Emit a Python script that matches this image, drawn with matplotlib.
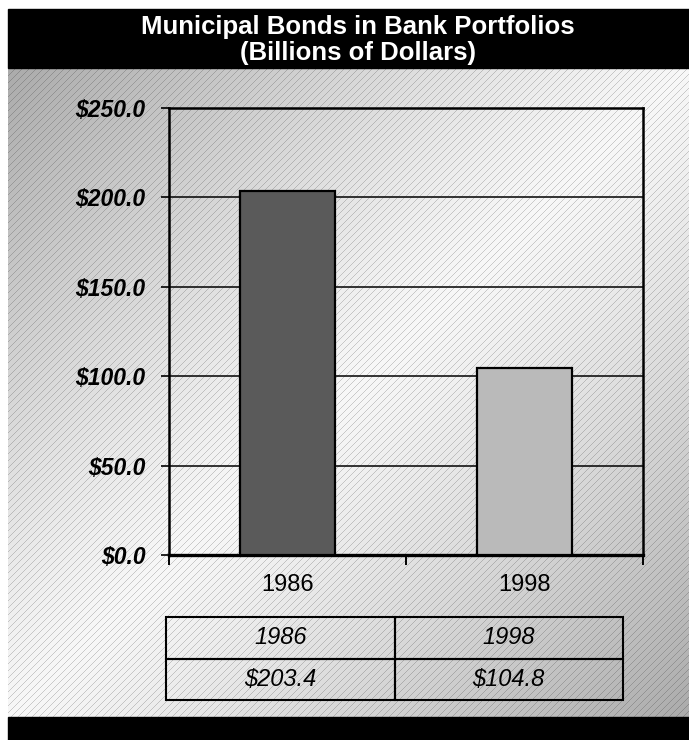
import numpy as np
import matplotlib.pyplot as plt
from matplotlib.patches import Rectangle

# 연도별 은행 보유 지방채 (십억 달러)
years = ['1986', '1998']
holdings = [203.4, 104.8]
bar_colors = ['#5a5a5a', '#bababa']
y_ticks = [0, 50, 100, 150, 200, 250]

title_lines = ['Municipal Bonds in Bank Portfolios', '(Billions of Dollars)']

W, H, DPI = 689, 740, 100
fig = plt.figure(figsize=(W / DPI, H / DPI), dpi=DPI, facecolor='white')
plt.rcParams['font.family'] = ['Liberation Sans', 'DejaVu Sans']

# 배경 패널: 대각선 그라데이션 + 빗금
px0, py_top, py_bot = 8, 68, 717
pw, ph = W - px0, py_bot - py_top
rows, cols = np.mgrid[0:ph, 0:pw]
s = cols / pw + rows / ph
shade = 0.97 - 0.30 * np.abs(s - 1.0) ** 1.2
stripe = ((cols + rows) % 7) == 0
shade = np.where(stripe, shade * 0.82, shade)
panel = np.dstack([shade, shade, shade])
fig.figimage(panel, xo=px0, yo=H - py_bot, origin='upper', zorder=0)

# 위/아래 검은 띠
fig.patches.append(Rectangle((px0 / W, 1 - 68 / H), 1 - px0 / W, 59 / H,
                             transform=fig.transFigure, color='black', zorder=1))
fig.patches.append(Rectangle((px0 / W, 0), 1 - px0 / W, (H - 717) / H,
                             transform=fig.transFigure, color='black', zorder=1))

fig.text(358 / W, 1 - 27 / H, title_lines[0], color='white', fontsize=18.5,
         fontweight='bold', ha='center', va='center', zorder=2)
fig.text(358 / W, 1 - 53 / H, title_lines[1], color='white', fontsize=18.5,
         fontweight='bold', ha='center', va='center', zorder=2)

# 막대 그래프
ax = fig.add_axes([169 / W, 185 / H, 474 / W, 447 / H])
ax.set_zorder(3)
ax.set_facecolor('none')
x = np.arange(len(years))
ax.bar(x, holdings, width=0.4, color=bar_colors, edgecolor='black',
       linewidth=1.6, zorder=3)
ax.set_xlim(-0.5, len(years) - 0.5)
ax.set_ylim(0, 250)
ax.set_yticks(y_ticks)
ax.set_yticklabels([f'${v:.1f}' for v in y_ticks], fontsize=16.5,
                   fontweight='bold', fontstyle='italic')
ax.yaxis.grid(True, color='black', linewidth=1.1, zorder=1)
ax.set_axisbelow(True)
ax.tick_params(axis='y', length=6, width=1.2, pad=11)

ax.set_xticks(np.arange(len(years) + 1) - 0.5)
ax.set_xticklabels([])
ax.set_xticks(x, minor=True)
ax.set_xticklabels(years, minor=True, fontsize=17)
ax.tick_params(axis='x', which='major', length=7, width=1.4)
ax.tick_params(axis='x', which='minor', length=0, pad=14)
for sp in ax.spines.values():
    sp.set_linewidth(1.8)
ax.spines['bottom'].set_linewidth(2.4)

# 데이터 표
tax = fig.add_axes([166 / W, 40 / H, 457 / W, 83 / H])
tax.set_zorder(3)
tax.axis('off')
tbl = tax.table(cellText=[years, [f'${v:.1f}' for v in holdings]],
                cellLoc='center', bbox=[0, 0, 1, 1])
tbl.auto_set_font_size(False)
for (r, c), cell in tbl.get_celld().items():
    cell.set_facecolor('none')
    cell.set_edgecolor('black')
    cell.set_linewidth(1.5)
    cell.get_text().set_fontsize(17)
    cell.get_text().set_fontstyle('italic')

fig.savefig('out.png', dpi=DPI, facecolor='white')
